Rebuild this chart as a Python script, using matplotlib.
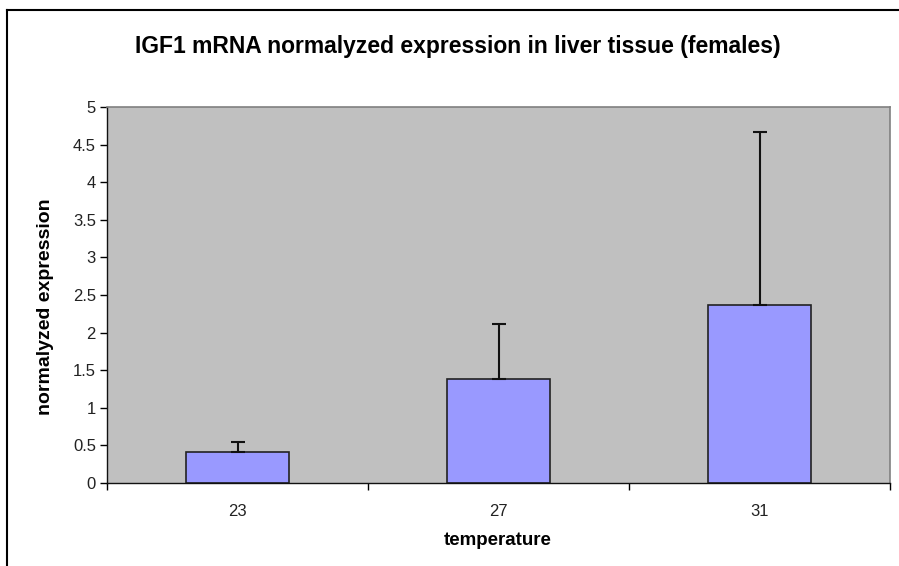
import numpy as np
import matplotlib
matplotlib.use("Agg")
from matplotlib import pyplot as plt
from matplotlib.lines import Line2D

# data
temps = ["23", "27", "31"]
means = [0.41, 1.38, 2.37]
err_up = [0.14, 0.73, 2.30]

plt.rcParams['font.family'] = ['Liberation Sans', 'DejaVu Sans']

fig = plt.figure(figsize=(8.99, 5.66), dpi=100)
ax = fig.add_axes([107/899, 83/566, 783/899, 376/566])
ax.set_facecolor("#C0C0C0")

x_index = np.arange(len(temps))
ax.bar(x_index, means, width=0.395, color="#9999FF", edgecolor="#222222", linewidth=1.2, zorder=2)
ax.errorbar(x_index, means, yerr=[np.zeros(len(means)), err_up], fmt="none",
            ecolor="#111111", elinewidth=1.5, capsize=5, capthick=1.5, zorder=3)

ax.set_xlim(-0.5, 2.5)
ax.set_ylim(0, 5)
ax.set_yticks(np.arange(0, 5.01, 0.5))
ax.set_yticklabels(["0", "0.5", "1", "1.5", "2", "2.5", "3", "3.5", "4", "4.5", "5"])
ax.set_xticks([-0.5, 0.5, 1.5, 2.5])
ax.set_xticklabels([])
ax.set_xticks(x_index, minor=True)
ax.set_xticklabels(temps, minor=True)
ax.tick_params(axis="x", which="minor", length=0, pad=15, labelsize=12, labelcolor="#222222")
ax.tick_params(axis="x", which="major", length=5, width=1, direction="out")
ax.tick_params(axis="y", length=5, width=1, direction="out", labelsize=12, labelcolor="#222222", pad=3)

for s in ["top", "right"]:
    ax.spines[s].set_color("#808080")
    ax.spines[s].set_linewidth(1.2)
for s in ["left", "bottom"]:
    ax.spines[s].set_color("#111111")
    ax.spines[s].set_linewidth(1)

ax.set_xlabel("temperature", fontsize=13.5, fontweight="bold", va="center")
ax.xaxis.set_label_coords(0.4995, -0.152)
ax.set_ylabel("normalyzed expression", fontsize=14, fontweight="bold", va="center")
ax.yaxis.set_label_coords(-0.079, 0.47)
fig.text(0.5 + 8/899, 1 - 47/566, "IGF1 mRNA normalyzed expression in liver tissue (females)",
         ha="center", va="center", fontsize=16.5, fontweight="bold")

# chart border (cut off at right and bottom)
fig.add_artist(Line2D([7/899, 7/899], [0, 1 - 10/566], color="black", lw=1.5, transform=fig.transFigure))
fig.add_artist(Line2D([7/899, 1], [1 - 10/566, 1 - 10/566], color="black", lw=1.5, transform=fig.transFigure))

fig.savefig("out.png", dpi=100)
